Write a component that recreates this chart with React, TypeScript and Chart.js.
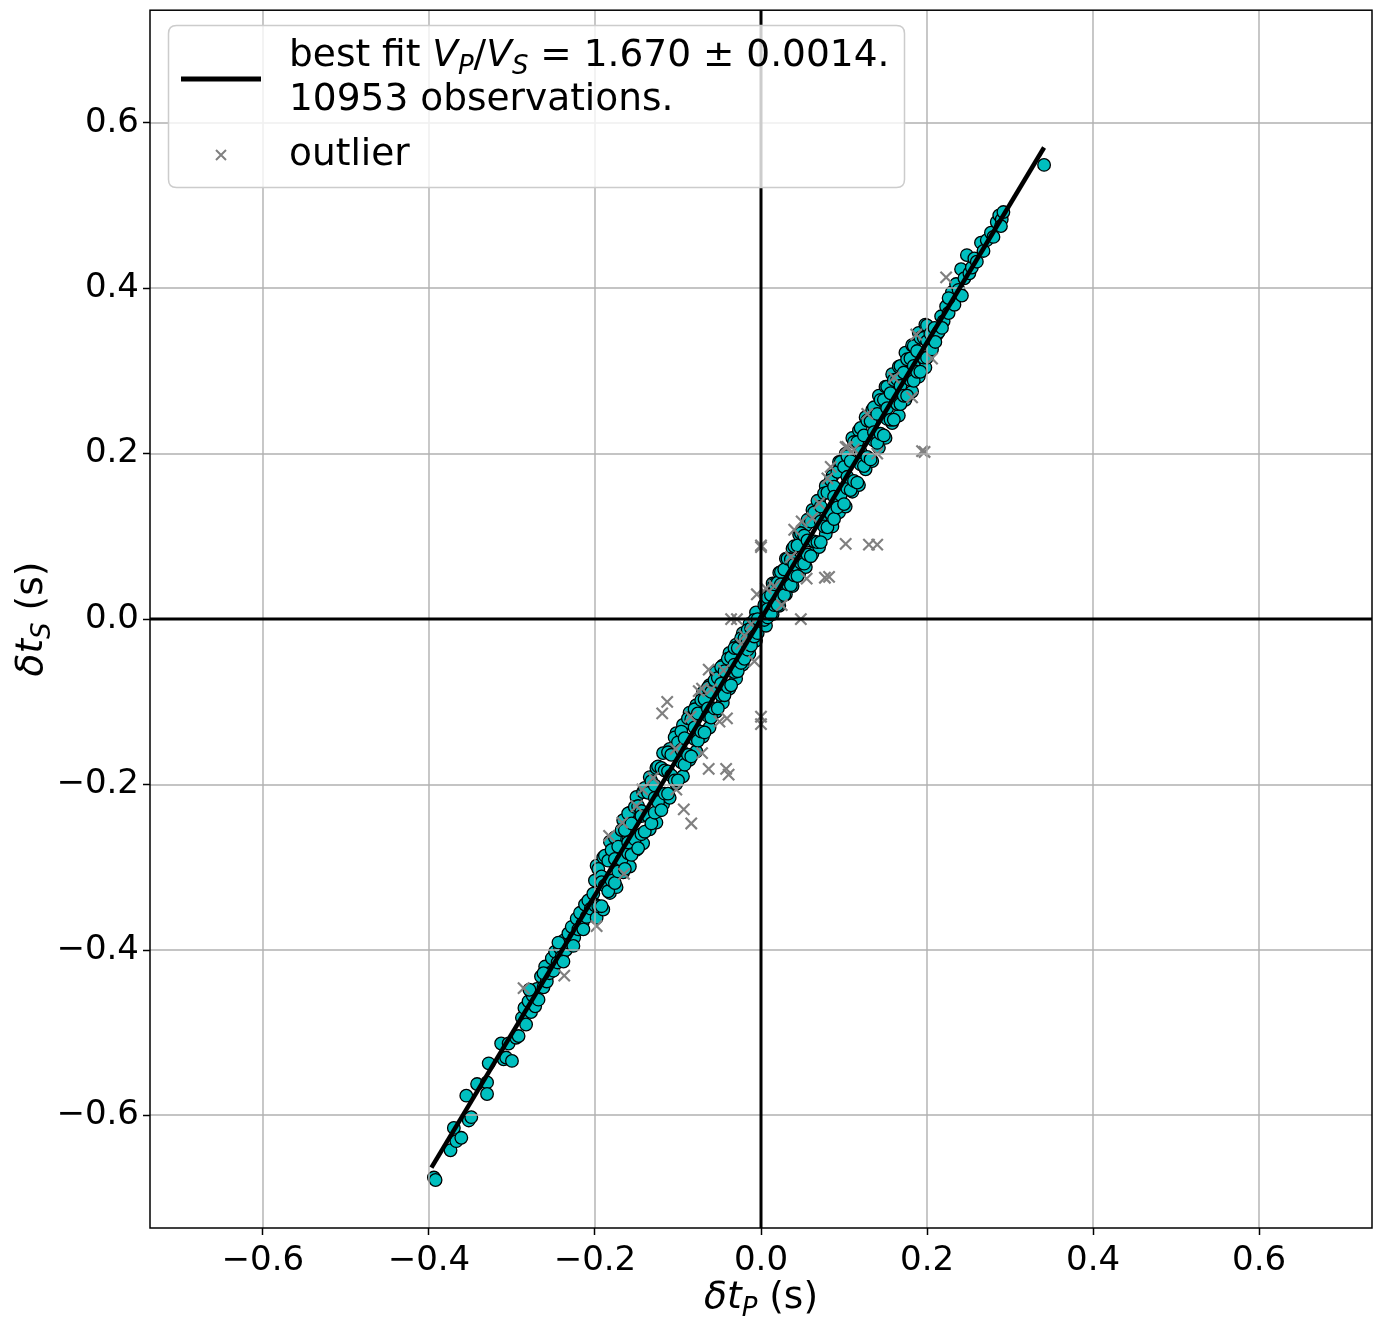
import React, { useEffect, useRef } from 'react';
import { Chart, registerables } from 'chart.js';

Chart.register(...registerables);

// ---------- data ----------
const tickValues = [-0.6, -0.4, -0.2, 0, 0.2, 0.4, 0.6];
const xLimits = [-0.736, 0.736];
const yLimits = [-0.736, 0.736];

const fitLine: [number, number][] = [[-0.397, -0.663], [0.341, 0.570]];

const inliersLow: [number, number][] = [
  [-0.394, -0.675], [-0.392, -0.678], [-0.374, -0.642], [-0.370, -0.615], [-0.367, -0.631],
  [-0.361, -0.627], [-0.355, -0.576], [-0.352, -0.606], [-0.349, -0.602], [-0.342, -0.562],
  [-0.330, -0.560], [-0.330, -0.574], [-0.328, -0.537], [-0.313, -0.513], [-0.310, -0.532],
  [-0.307, -0.530], [-0.304, -0.513], [-0.300, -0.534], [-0.295, -0.506], [-0.292, -0.504],
  [-0.288, -0.482], [-0.285, -0.470], [-0.283, -0.490], [-0.280, -0.462], [-0.277, -0.475],
  [-0.275, -0.455], [-0.272, -0.468], [-0.270, -0.447], [-0.268, -0.460], [-0.265, -0.432],
  [-0.262, -0.445], [-0.260, -0.420], [-0.258, -0.438], [-0.255, -0.428], [-0.252, -0.410],
  [-0.250, -0.425], [-0.248, -0.402], [-0.245, -0.415], [-0.242, -0.398], [-0.240, -0.408],
  [-0.237, -0.388], [-0.235, -0.400], [-0.232, -0.380], [-0.230, -0.392], [-0.228, -0.372],
  [-0.225, -0.385], [-0.222, -0.362], [-0.220, -0.375], [-0.218, -0.355], [-0.215, -0.368],
  [-0.212, -0.345], [-0.210, -0.360], [-0.208, -0.340], [-0.205, -0.350], [-0.202, -0.332],
  [-0.200, -0.345], [-0.279, -0.448], [-0.262, -0.428], [-0.244, -0.391], [-0.226, -0.395],
  [-0.214, -0.375], [-0.238, -0.414],
];

const inliersNeg: [number, number][] = [
  [-0.200, -0.316], [-0.200, -0.346], [-0.196, -0.302], [-0.196, -0.347],
  [-0.192, -0.311], [-0.192, -0.347], [-0.192, -0.318], [-0.188, -0.286], [-0.188, -0.322],
  [-0.184, -0.292], [-0.184, -0.329], [-0.180, -0.279], [-0.180, -0.316],
  [-0.176, -0.264], [-0.176, -0.319], [-0.176, -0.290], [-0.172, -0.275], [-0.172, -0.305],
  [-0.168, -0.255], [-0.168, -0.291], [-0.164, -0.255], [-0.164, -0.302],
  [-0.160, -0.235], [-0.160, -0.283], [-0.160, -0.270], [-0.156, -0.247], [-0.156, -0.285],
  [-0.152, -0.227], [-0.152, -0.266], [-0.148, -0.226], [-0.148, -0.277],
  [-0.144, -0.232], [-0.144, -0.260], [-0.144, -0.238], [-0.140, -0.204], [-0.140, -0.257],
  [-0.136, -0.210], [-0.136, -0.238], [-0.132, -0.196], [-0.132, -0.247],
  [-0.128, -0.201], [-0.128, -0.234], [-0.128, -0.216], [-0.124, -0.178], [-0.124, -0.221],
  [-0.120, -0.180], [-0.120, -0.231], [-0.116, -0.183], [-0.116, -0.211],
  [-0.112, -0.161], [-0.112, -0.211], [-0.112, -0.184], [-0.108, -0.164], [-0.108, -0.189],
  [-0.104, -0.143], [-0.104, -0.195], [-0.100, -0.149], [-0.100, -0.195],
  [-0.096, -0.136], [-0.096, -0.173], [-0.096, -0.158], [-0.092, -0.144], [-0.092, -0.176],
  [-0.088, -0.120], [-0.088, -0.164], [-0.084, -0.121], [-0.084, -0.166],
  [-0.080, -0.109], [-0.080, -0.145], [-0.080, -0.131], [-0.076, -0.114], [-0.076, -0.147],
  [-0.072, -0.098], [-0.072, -0.136], [-0.068, -0.097], [-0.068, -0.137],
  [-0.064, -0.083], [-0.064, -0.117], [-0.064, -0.108], [-0.060, -0.088], [-0.060, -0.119],
  [-0.056, -0.074], [-0.056, -0.108], [-0.052, -0.071], [-0.052, -0.108],
  [-0.048, -0.058], [-0.048, -0.092], [-0.048, -0.078], [-0.044, -0.063], [-0.044, -0.092],
  [-0.040, -0.048], [-0.040, -0.082], [-0.036, -0.046], [-0.036, -0.080],
  [-0.032, -0.035], [-0.032, -0.064], [-0.032, -0.055], [-0.028, -0.035], [-0.028, -0.063],
  [-0.024, -0.023], [-0.024, -0.053], [-0.020, -0.023], [-0.020, -0.048],
  [-0.016, -0.013], [-0.016, -0.037], [-0.016, -0.025], [-0.012, -0.011], [-0.012, -0.032],
  [-0.008, -0.001], [-0.008, -0.021], [-0.004, 0.000], [-0.004, -0.017],
];

const inliersNegSpread: [number, number][] = [
  [-0.198, -0.298], [-0.198, -0.361], [-0.190, -0.288], [-0.190, -0.351],
  [-0.182, -0.269], [-0.182, -0.331], [-0.174, -0.264], [-0.174, -0.324],
  [-0.166, -0.243], [-0.166, -0.306], [-0.158, -0.234], [-0.158, -0.299],
  [-0.150, -0.215], [-0.150, -0.279], [-0.142, -0.209], [-0.142, -0.271],
  [-0.134, -0.191], [-0.134, -0.254], [-0.126, -0.180], [-0.126, -0.246],
  [-0.118, -0.162], [-0.118, -0.224], [-0.110, -0.157], [-0.110, -0.216],
  [-0.102, -0.138], [-0.102, -0.199], [-0.094, -0.128], [-0.094, -0.190],
  [-0.086, -0.113], [-0.086, -0.170], [-0.078, -0.104], [-0.078, -0.160],
  [-0.070, -0.089], [-0.070, -0.142], [-0.062, -0.080], [-0.062, -0.131],
  [-0.054, -0.064], [-0.054, -0.112], [-0.046, -0.056], [-0.046, -0.101],
  [-0.038, -0.041], [-0.038, -0.084], [-0.030, -0.031], [-0.030, -0.072],
  [-0.022, -0.017], [-0.022, -0.055], [-0.014, -0.006], [-0.014, -0.042],
  [-0.006, 0.008], [-0.006, -0.026],
];

const inliersPos: [number, number][] = [
  [0.004, 0.017], [0.004, -0.001], [0.008, 0.026], [0.008, 0.002], [0.008, 0.012],
  [0.012, 0.029], [0.012, 0.006], [0.016, 0.042], [0.016, 0.017], [0.020, 0.044], [0.020, 0.017],
  [0.024, 0.057], [0.024, 0.028], [0.024, 0.042], [0.028, 0.060], [0.028, 0.029],
  [0.032, 0.073], [0.032, 0.042], [0.036, 0.072], [0.036, 0.041],
  [0.040, 0.088], [0.040, 0.053], [0.040, 0.066], [0.044, 0.089], [0.044, 0.052],
  [0.048, 0.104], [0.048, 0.068], [0.052, 0.101], [0.052, 0.067],
  [0.056, 0.120], [0.056, 0.078], [0.056, 0.095], [0.060, 0.118], [0.060, 0.076],
  [0.064, 0.129], [0.064, 0.094], [0.068, 0.143], [0.068, 0.093],
  [0.072, 0.136], [0.072, 0.093], [0.072, 0.118], [0.076, 0.152], [0.076, 0.112],
  [0.080, 0.153], [0.080, 0.111], [0.084, 0.168], [0.084, 0.128],
  [0.088, 0.160], [0.088, 0.121], [0.088, 0.148], [0.092, 0.178], [0.092, 0.135],
  [0.096, 0.190], [0.096, 0.150], [0.100, 0.184], [0.100, 0.139],
  [0.104, 0.197], [0.104, 0.158], [0.104, 0.172], [0.108, 0.191], [0.108, 0.156],
  [0.112, 0.214], [0.112, 0.167], [0.116, 0.214], [0.116, 0.165],
  [0.120, 0.231], [0.120, 0.187], [0.120, 0.202], [0.124, 0.222], [0.124, 0.185],
  [0.128, 0.240], [0.128, 0.196], [0.132, 0.239], [0.132, 0.193],
  [0.136, 0.256], [0.136, 0.216], [0.136, 0.226], [0.140, 0.248], [0.140, 0.213],
  [0.144, 0.265], [0.144, 0.224], [0.148, 0.265], [0.148, 0.222],
  [0.152, 0.281], [0.152, 0.242], [0.152, 0.255], [0.156, 0.273], [0.156, 0.241],
  [0.160, 0.289], [0.160, 0.241], [0.164, 0.290], [0.164, 0.260],
  [0.168, 0.306], [0.168, 0.260], [0.168, 0.282], [0.172, 0.298], [0.172, 0.270],
  [0.176, 0.314], [0.176, 0.270], [0.180, 0.315], [0.180, 0.289],
  [0.184, 0.330], [0.184, 0.288], [0.184, 0.306], [0.188, 0.324], [0.188, 0.299],
  [0.192, 0.340], [0.192, 0.299], [0.196, 0.340], [0.196, 0.316],
  [0.200, 0.355], [0.200, 0.316], [0.200, 0.336],
];

const inliersPosSpread: [number, number][] = [
  [0.006, 0.027], [0.006, -0.008], [0.014, 0.043], [0.014, 0.006],
  [0.022, 0.056], [0.022, 0.016], [0.030, 0.073], [0.030, 0.030],
  [0.038, 0.085], [0.038, 0.040], [0.046, 0.102], [0.046, 0.055],
  [0.054, 0.113], [0.054, 0.063], [0.062, 0.132], [0.062, 0.079],
  [0.070, 0.143], [0.070, 0.087], [0.078, 0.161], [0.078, 0.103],
  [0.086, 0.173], [0.086, 0.112], [0.094, 0.190], [0.094, 0.129],
  [0.102, 0.200], [0.102, 0.136], [0.110, 0.219], [0.110, 0.154],
  [0.118, 0.228], [0.118, 0.162], [0.126, 0.244], [0.126, 0.181],
  [0.134, 0.253], [0.134, 0.191], [0.142, 0.270], [0.142, 0.207],
  [0.150, 0.281], [0.150, 0.219], [0.158, 0.296], [0.158, 0.237],
  [0.166, 0.305], [0.166, 0.246], [0.174, 0.322], [0.174, 0.265],
  [0.182, 0.331], [0.182, 0.275], [0.190, 0.346], [0.190, 0.293],
  [0.198, 0.356], [0.198, 0.304],
];

const inliersHigh: [number, number][] = [
  [0.204, 0.345], [0.206, 0.326], [0.209, 0.352], [0.212, 0.344], [0.214, 0.347],
  [0.217, 0.366], [0.220, 0.360], [0.223, 0.378], [0.226, 0.370], [0.228, 0.388],
  [0.230, 0.395], [0.233, 0.380], [0.235, 0.405], [0.238, 0.398], [0.241, 0.423],
  [0.242, 0.391], [0.245, 0.412], [0.248, 0.440], [0.251, 0.418], [0.254, 0.425],
  [0.257, 0.436], [0.260, 0.432], [0.265, 0.455], [0.268, 0.445], [0.272, 0.458],
  [0.277, 0.467], [0.280, 0.462], [0.284, 0.480], [0.287, 0.488], [0.290, 0.483],
  [0.292, 0.492], [0.289, 0.475], [0.341, 0.549], [0.210, 0.335], [0.218, 0.352],
  [0.226, 0.388],
];

const outliers: [number, number][] = [
  [0.194, 0.203], [0.197, 0.202], [0.140, 0.200], [0.102, 0.091], [0.130, 0.090],
  [0.140, 0.090], [0.082, 0.051], [0.055, 0.049], [0.048, 0.000], [0.000, 0.087],
  [0.000, 0.089], [0.000, -0.118], [0.000, -0.127], [-0.113, -0.100], [-0.119, -0.114],
  [-0.063, -0.181], [-0.042, -0.181], [-0.039, -0.188], [-0.071, -0.162], [-0.036, 0.000],
  [-0.029, 0.000], [0.102, 0.208], [0.084, 0.184], [0.080, 0.170], [0.049, 0.118],
  [0.040, 0.108], [-0.050, -0.124], [-0.041, -0.120], [-0.063, -0.061], [-0.075, -0.087],
  [-0.071, -0.084], [-0.103, -0.157], [-0.005, 0.030], [0.006, 0.037], [0.025, 0.017],
  [-0.008, -0.051], [-0.093, -0.230], [-0.084, -0.247], [-0.143, -0.206], [-0.102, -0.206],
  [-0.183, -0.262], [-0.167, -0.246], [-0.165, -0.308], [-0.198, -0.371], [-0.237, -0.431],
  [-0.286, -0.446], [0.223, 0.413], [0.187, 0.344], [0.206, 0.315], [0.182, 0.268],
  [0.128, 0.248], [0.104, 0.208], [0.077, 0.050], [0.062, 0.122], [0.070, 0.140],
  [0.036, 0.075], [-0.020, -0.020], [-0.045, -0.062], [-0.060, -0.085], [-0.085, -0.118],
  [-0.130, -0.192], [-0.150, -0.226], [0.112, 0.205], [0.160, 0.292], [-0.024, -0.030],
  [-0.012, -0.006], [0.016, 0.040],
];

// ---------- text ----------
type Run = { t: string; italic?: boolean; sub?: boolean };
const legendFitRuns: Run[] = [
  { t: 'best fit ' },
  { t: 'V', italic: true }, { t: 'P', italic: true, sub: true },
  { t: '/' },
  { t: 'V', italic: true }, { t: 'S', italic: true, sub: true },
  { t: ' = 1.670 \u00b1 0.0014.' },
];
const legendFitLine2 = '10953 observations.';
const legendOutlier = 'outlier';
const xTitleRuns: Run[] = [{ t: '\u03b4t', italic: true }, { t: 'P', italic: true, sub: true }, { t: ' (s)' }];
const yTitleRuns: Run[] = [{ t: '\u03b4t', italic: true }, { t: 'S', italic: true, sub: true }, { t: ' (s)' }];

// ---------- style ----------
const W = 1385;
const H = 1319;
const FAM = '"DejaVu Sans"';
const TICK_SIZE = 34;
const TEXT_SIZE = 37.5;
const GRID = '#b0b0b0';
const CYAN = '#00bfbf';
const GRAY = '#808080';

const toPts = (a: [number, number][]) => a.map(([x, y]) => ({ x, y }));
const fmt = (v: number) => (v < -1e-9 ? '\u2212' : '') + Math.abs(v).toFixed(1);

function runFont(r: Run, size: number) {
  const s = r.sub ? Math.round(size * 0.7) : size;
  return `${r.italic ? 'italic ' : ''}${s}px ${FAM}`;
}
function drawRuns(ctx: CanvasRenderingContext2D, runs: Run[], x: number, y: number, size: number, center: boolean) {
  const widths = runs.map((r) => { ctx.font = runFont(r, size); return ctx.measureText(r.t).width; });
  const total = widths.reduce((a, b) => a + b, 0);
  let cx = center ? x - total / 2 : x;
  ctx.textBaseline = 'alphabetic';
  ctx.textAlign = 'left';
  runs.forEach((r, i) => {
    ctx.font = runFont(r, size);
    ctx.fillText(r.t, cx, y + (r.sub ? size * 0.2 : 0));
    cx += widths[i];
  });
}

const overlay = {
  id: 'overlay',
  afterDatasetDraw(chart: any, args: any) {
    if (args.index !== 1) return; // after outliers, before fit line
    const { ctx, chartArea: a, scales } = chart;
    const xs = scales.x, ys = scales.y;
    ctx.save();
    ctx.beginPath();
    ctx.rect(a.left, a.top, a.right - a.left, a.bottom - a.top);
    ctx.clip();
    ctx.strokeStyle = GRID;
    ctx.lineWidth = 1.4;
    for (const t of xs.ticks) {
      const p = Math.round(xs.getPixelForValue(t.value));
      ctx.beginPath(); ctx.moveTo(p, a.top); ctx.lineTo(p, a.bottom); ctx.stroke();
    }
    for (const t of ys.ticks) {
      const p = Math.round(ys.getPixelForValue(t.value));
      ctx.beginPath(); ctx.moveTo(a.left, p); ctx.lineTo(a.right, p); ctx.stroke();
    }
    ctx.strokeStyle = '#000';
    ctx.lineWidth = 3;
    const x0 = xs.getPixelForValue(0);
    const y0 = ys.getPixelForValue(0);
    ctx.beginPath(); ctx.moveTo(x0, a.top); ctx.lineTo(x0, a.bottom); ctx.stroke();
    ctx.beginPath(); ctx.moveTo(a.left, y0); ctx.lineTo(a.right, y0); ctx.stroke();
    ctx.restore();
  },
  afterDatasetsDraw(chart: any) {
    const { ctx, chartArea: a } = chart;
    ctx.save();
    ctx.strokeStyle = '#000';
    ctx.lineWidth = 1.5;
    ctx.strokeRect(a.left, a.top, a.right - a.left, a.bottom - a.top);
    ctx.restore();
  },
  afterDraw(chart: any) {
    const { ctx, chartArea: a } = chart;
    ctx.save();
    ctx.fillStyle = '#000';
    // axis titles
    drawRuns(ctx, xTitleRuns, (a.left + a.right) / 2, 1308, TEXT_SIZE, true);
    ctx.save();
    ctx.translate(42, (a.top + a.bottom) / 2);
    ctx.rotate(-Math.PI / 2);
    drawRuns(ctx, yTitleRuns, 0, 0, TEXT_SIZE, true);
    ctx.restore();

    // legend box
    const bx = 168.5, by = 25.5, bw = 736, bh = 162, r = 8;
    ctx.beginPath();
    ctx.moveTo(bx + r, by);
    ctx.lineTo(bx + bw - r, by);
    ctx.quadraticCurveTo(bx + bw, by, bx + bw, by + r);
    ctx.lineTo(bx + bw, by + bh - r);
    ctx.quadraticCurveTo(bx + bw, by + bh, bx + bw - r, by + bh);
    ctx.lineTo(bx + r, by + bh);
    ctx.quadraticCurveTo(bx, by + bh, bx, by + bh - r);
    ctx.lineTo(bx, by + r);
    ctx.quadraticCurveTo(bx, by, bx + r, by);
    ctx.closePath();
    ctx.fillStyle = 'rgba(255,255,255,0.8)';
    ctx.fill();
    ctx.strokeStyle = '#cccccc';
    ctx.lineWidth = 1.5;
    ctx.stroke();

    // legend handles
    ctx.strokeStyle = '#000';
    ctx.lineWidth = 5;
    ctx.beginPath(); ctx.moveTo(181, 79); ctx.lineTo(261, 79); ctx.stroke();
    ctx.strokeStyle = GRAY;
    ctx.lineWidth = 2;
    const mx = 221, my = 155, ms = 5;
    ctx.beginPath();
    ctx.moveTo(mx - ms, my - ms); ctx.lineTo(mx + ms, my + ms);
    ctx.moveTo(mx - ms, my + ms); ctx.lineTo(mx + ms, my - ms);
    ctx.stroke();

    // legend texts
    ctx.fillStyle = '#000';
    drawRuns(ctx, legendFitRuns, 289, 66, TEXT_SIZE, false);
    drawRuns(ctx, [{ t: legendFitLine2 }], 289, 110, TEXT_SIZE, false);
    drawRuns(ctx, [{ t: legendOutlier }], 289, 165, TEXT_SIZE, false);
    ctx.restore();
  },
};

function axisConfig(limits: number[], isX: boolean) {
  return {
    type: 'linear',
    position: isX ? 'bottom' : 'left',
    min: limits[0],
    max: limits[1],
    afterBuildTicks: (s: any) => { s.ticks = tickValues.map((v) => ({ value: v })); },
    afterFit: (s: any) => {
      if (isX) { s.height = 91; s.paddingLeft = 0; s.paddingRight = 0; }
      else { s.width = 150; s.paddingTop = 0; s.paddingBottom = 0; }
    },
    grid: {
      drawOnChartArea: false,
      drawTicks: true,
      tickLength: 7,
      tickWidth: 1.5,
      tickColor: '#000',
    },
    border: { display: false },
    ticks: {
      color: '#000',
      font: { family: 'DejaVu Sans', size: TICK_SIZE },
      padding: isX ? 6 : 4,
      maxRotation: 0,
      minRotation: 0,
      autoSkip: false,
      callback: (v: any) => fmt(Number(v)),
    },
  };
}

export default function App() {
  const ref = useRef<HTMLCanvasElement>(null);
  useEffect(() => {
    if (!ref.current) return;
    const chart = new Chart(ref.current, {
      type: 'scatter',
      data: {
        datasets: [
          {
            type: 'line',
            label: 'best fit',
            data: toPts(fitLine),
            borderColor: '#000',
            borderWidth: 4.5,
            pointRadius: 0,
            fill: false,
            order: 0,
          } as any,
          {
            label: 'outlier',
            data: toPts(outliers),
            pointStyle: 'crossRot',
            pointRadius: 8,
            borderColor: GRAY,
            backgroundColor: GRAY,
            pointBorderWidth: 2.2,
            borderWidth: 2.2,
            order: 1,
          } as any,
          {
            label: 'observations',
            data: toPts([
              ...inliersLow, ...inliersNegSpread, ...inliersNeg,
              ...inliersPosSpread, ...inliersPos, ...inliersHigh,
            ]),
            pointStyle: 'circle',
            pointRadius: 6.3,
            backgroundColor: CYAN,
            borderColor: '#000',
            borderWidth: 1.3,
            order: 2,
          } as any,
        ],
      },
      options: {
        responsive: false,
        animation: false,
        events: [],
        layout: { padding: { top: 5, right: 13, left: 0, bottom: 0 } },
        plugins: { legend: { display: false }, tooltip: { enabled: false } },
        scales: {
          x: axisConfig(xLimits, true) as any,
          y: axisConfig(yLimits, false) as any,
        },
      },
      plugins: [overlay],
    });
    return () => chart.destroy();
  }, []);
  return (
    <canvas
      ref={ref}
      width={W}
      height={H}
      style={{ position: 'absolute', left: 0, top: 0, display: 'block', background: '#fff' }}
    />
  );
}
